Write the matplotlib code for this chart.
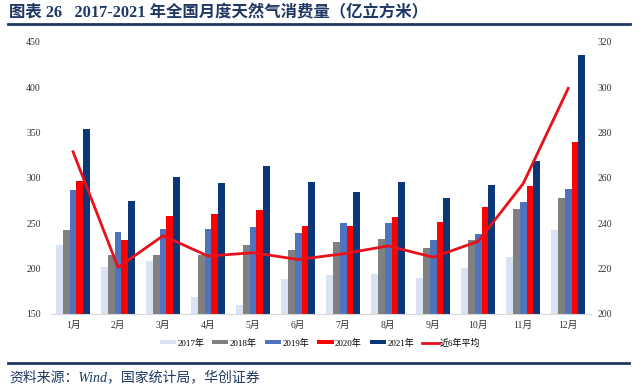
"""2017-2021 monthly natural gas consumption, bars per year plus 6-year average line."""
import matplotlib
matplotlib.use("Agg")
import matplotlib.pyplot as plt
import numpy as np

plt.rcParams["font.family"] = ["Liberation Serif", "Noto Sans CJK SC", "DejaVu Sans"]

months = ["1月", "2月", "3月", "4月", "5月", "6月",
          "7月", "8月", "9月", "10月", "11月", "12月"]
years = ["2017年", "2018年", "2019年", "2020年", "2021年"]
v2017 = [226, 202, 208, 169, 160, 189, 193, 194, 190, 201, 213, 242]
v2018 = [243, 215, 215, 215, 226, 220, 229, 233, 223, 232, 266, 278]
v2019 = [287, 240, 244, 244, 246, 239, 250, 250, 232, 238, 273, 288]
v2020 = [297, 231, 258, 260, 265, 247, 247, 257, 251, 268, 291, 340]
v2021 = [354, 274, 301, 294, 313, 295, 284, 296, 278, 292, 319, 436]
avg6 = [271.5, 220.5, 234.5, 225.5, 227, 224, 226.5, 230, 225, 232, 257.5, 299.5]

colors = ["#dae3f3", "#808080", "#4f74bd", "#ff0000", "#0b3677"]
navy = "#1f3864"
series = [v2017, v2018, v2019, v2020, v2021]

fig = plt.figure(figsize=(6.4, 3.88), dpi=100)
ax = fig.add_axes([0.079, 0.191, 0.844, 0.701])
x = np.arange(len(months))
w = 0.15
for i, (vals, lab, c) in enumerate(zip(series, years, colors)):
    ax.bar(x + (i - 2) * w, vals, width=w, color=c, label=lab, zorder=2)
ax.set_ylim(150, 450)
ax.set_yticks(range(150, 451, 50))
ax.set_xlim(-0.5, 11.5)
ax.set_xticks(x)
ax.set_xticklabels(months)
ax.tick_params(length=0, labelsize=7, colors="#333333")
ax.tick_params(axis="x", pad=5)
ax.tick_params(axis="y", pad=7)
for s in ["left", "right", "top"]:
    ax.spines[s].set_visible(False)
ax.spines["bottom"].set_color("#d9d9d9")

ax2 = ax.twinx()
ax2.plot(x, avg6, color="#e8101a", lw=2, label="近6年平均", zorder=3)
ax2.set_ylim(200, 320)
ax2.set_yticks(range(200, 321, 20))
ax2.tick_params(length=0, labelsize=7, colors="#333333", pad=5)
for s in ax2.spines.values():
    s.set_visible(False)

h1, l1 = ax.get_legend_handles_labels()
h2, l2 = ax2.get_legend_handles_labels()
fig.legend(h1 + h2, l1 + l2, loc="center", bbox_to_anchor=(0.5, 0.116), ncol=6,
           frameon=False, fontsize=6.5, handlelength=1.8, handleheight=0.3,
           handletextpad=0.15, columnspacing=0.9)

fig.text(0.014, 0.966, "图表 26   2017-2021 年全国月度天然气消费量（亿立方米）",
         fontsize=11.8, fontweight="bold", color=navy, va="center")
fig.add_artist(plt.Line2D([0.013, 0.985], [0.937, 0.937], color=navy, lw=2))
fig.add_artist(plt.Line2D([0.013, 0.983], [0.064, 0.064], color=navy, lw=2))
fig.text(0.014, 0.028, "资料来源：Wind，国家统计局，华创证券", fontsize=10,
         style="italic", color=navy, va="center")

fig.savefig("out.png", dpi=100)
